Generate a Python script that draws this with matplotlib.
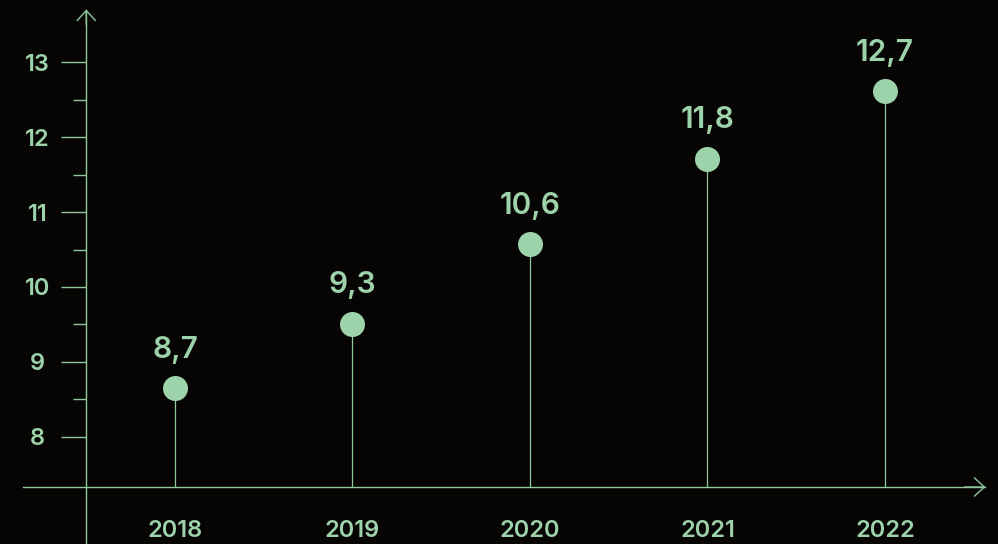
import matplotlib.pyplot as plt

years = ['2018', '2019', '2020', '2021', '2022']
values = [8.65, 9.51, 10.57, 11.71, 12.61]
value_labels = ['8,7', '9,3', '10,6', '11,8', '12,7']
y_major = [8, 9, 10, 11, 12, 13]
y_minor = [8.5, 9.5, 10.5, 11.5, 12.5]

bg = '#070404'
green = '#9dd3aa'
line_green = '#8fc89c'

plt.rcParams['font.family'] = ['Inter', 'DejaVu Sans']

fig = plt.figure(figsize=(9.98, 5.44), dpi=100, facecolor=bg)
ax = fig.add_axes([0, 0, 1, 1])
ax.set_facecolor(bg)

# pixel mapping: 177.5 px per category, 75 px per unit
ax.set_xlim(-0.986, 4.637)
ax.set_ylim(6.573, 13.827)
x_axis_y = 7.333
y_axis_x = -0.5

xs = list(range(len(years)))
ax.vlines(xs, x_axis_y, values, color=line_green, lw=0.9)
ax.plot(xs, values, 'o', ms=18, color=green, mec='none', zorder=3)

for x, v, lab in zip(xs, values, value_labels):
    ax.annotate(lab, (x, v), xytext=(0, 22), textcoords='offset points',
                ha='center', va='baseline', fontsize=21.5, color=green, fontweight='semibold')

# axes lines
for s in ['top', 'right']:
    ax.spines[s].set_visible(False)
ax.spines['left'].set_position(('data', y_axis_x))
ax.spines['bottom'].set_position(('data', x_axis_y))
ax.spines['left'].set_bounds(6.573, 13.70)
ax.spines['bottom'].set_bounds(-0.856, 4.566)
for s in ['left', 'bottom']:
    ax.spines[s].set_color(line_green)
    ax.spines[s].set_linewidth(1.0)

arrow = dict(arrowstyle='->,head_length=0.36,head_width=0.33', color=line_green,
             lw=1.0, mutation_scale=20, shrinkA=0, shrinkB=0)
ax.annotate('', xy=(y_axis_x, 13.70), xytext=(y_axis_x, 13.5), arrowprops=arrow)
ax.annotate('', xy=(4.566, x_axis_y), xytext=(4.45, x_axis_y), arrowprops=arrow)

ax.set_yticks(y_major)
ax.set_yticks(y_minor, minor=True)
ax.set_yticklabels([str(t) for t in y_major])
ax.tick_params(axis='y', which='major', length=18, width=1.0, color=line_green,
               labelcolor=green, labelsize=17, pad=17)
ax.tick_params(axis='y', which='minor', length=9.4, width=1.0, color=line_green)
for lab in ax.get_yticklabels():
    lab.set_horizontalalignment('center')
    lab.set_fontweight('semibold')

ax.set_xticks(xs)
ax.set_xticklabels(years, fontweight='semibold')
ax.tick_params(axis='x', length=0, labelcolor=green, labelsize=17, pad=24)

fig.savefig('out.png', dpi=100, facecolor=bg)
